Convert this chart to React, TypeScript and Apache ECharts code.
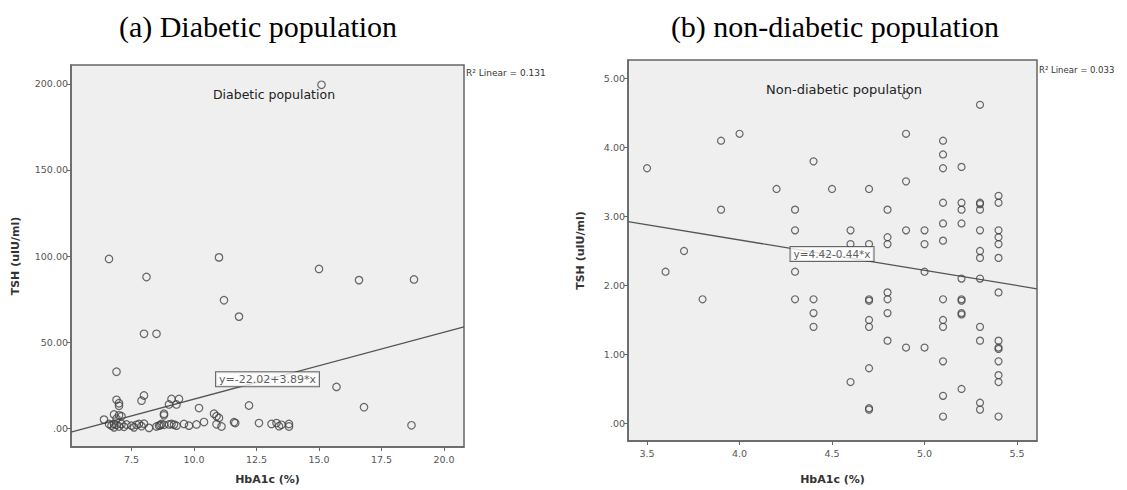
import React, { useEffect, useRef } from "react";
import * as echarts from "echarts";

// Diabetic population: [HbA1c %, TSH uIU/ml]
const diabeticPoints: number[][] = [
  [6.6, 98.3], [8.1, 87.8], [11.0, 99.2], [11.2, 74.3], [11.8, 64.8], [8.0, 54.8], [8.5, 54.8],
  [6.9, 32.8], [15.0, 92.5], [16.6, 86.0], [18.8, 86.4], [15.7, 24.0], [16.8, 12.2], [18.7, 1.7],
  [15.1, 199.4],
  [6.9, 16.5], [7.0, 14.5], [7.0, 13.0], [8.0, 19.0], [7.9, 16.0], [9.1, 17.0], [9.4, 17.0],
  [9.0, 13.8], [9.3, 13.8], [8.8, 8.4], [8.8, 7.5], [10.2, 11.7], [10.8, 8.4], [10.9, 7.0],
  [11.0, 6.0], [12.2, 13.2], [6.4, 5.0], [6.8, 8.0], [7.0, 7.5], [7.1, 7.0], [6.9, 5.5],
  [6.6, 2.5], [6.7, 1.5], [6.8, 2.5], [6.8, 0.5], [6.9, 2.0], [7.0, 1.0], [7.1, 2.5], [7.2, 0.8],
  [7.3, 2.2], [7.5, 1.5], [7.6, 0.5], [7.7, 2.0], [7.8, 2.5], [7.9, 1.2], [8.0, 2.6], [8.2, 0.2],
  [8.5, 1.0], [8.6, 1.5], [8.7, 2.5], [8.65, 1.8], [8.8, 2.0], [9.0, 2.2], [9.1, 2.5], [9.2, 2.1],
  [9.3, 1.5], [9.6, 2.5], [9.8, 1.5], [10.1, 2.2], [10.4, 3.6], [10.9, 2.3], [11.1, 1.0],
  [11.6, 3.5], [11.65, 3.0], [12.6, 3.0], [13.1, 2.5], [13.3, 3.0], [13.4, 1.2], [13.5, 2.0],
  [13.8, 1.0], [13.8, 2.5],
];

// Non-diabetic population: [HbA1c %, TSH uIU/ml]
const nonDiabeticPoints: number[][] = [
  [3.5, 3.7], [3.9, 4.1], [4.0, 4.2], [3.9, 3.1], [4.4, 3.8], [4.2, 3.4], [4.5, 3.4], [4.7, 3.4],
  [4.3, 3.1], [4.8, 3.1], [4.9, 4.76], [5.3, 4.62], [4.9, 4.2], [5.1, 4.1], [5.1, 3.9], [5.1, 3.7],
  [5.2, 3.72], [4.9, 3.51],
  [5.1, 3.2], [5.2, 3.2], [5.2, 3.1], [5.3, 3.2], [5.3, 3.18], [5.3, 3.1], [5.4, 3.3], [5.4, 3.2],
  [4.3, 2.8], [4.6, 2.8], [4.9, 2.8], [5.0, 2.8], [5.1, 2.9], [5.2, 2.9], [5.3, 2.8], [5.4, 2.8],
  [5.4, 2.7], [5.4, 2.6], [4.8, 2.7], [4.8, 2.6], [4.6, 2.6], [4.7, 2.6], [5.0, 2.6], [5.1, 2.65],
  [5.3, 2.5], [5.3, 2.4], [5.4, 2.4],
  [3.7, 2.5], [3.6, 2.2], [4.3, 2.2], [5.0, 2.2], [5.2, 2.1], [5.3, 2.1], [4.8, 1.9], [5.4, 1.9],
  [3.8, 1.8], [4.3, 1.8], [4.4, 1.8], [4.4, 1.6], [4.4, 1.4], [4.7, 1.8], [4.7, 1.78], [4.8, 1.8],
  [4.8, 1.6], [5.1, 1.8], [5.2, 1.8], [5.2, 1.78], [5.2, 1.6], [5.2, 1.58], [4.7, 1.5], [4.7, 1.4],
  [5.1, 1.5], [5.1, 1.4], [5.3, 1.4],
  [4.8, 1.2], [4.9, 1.1], [5.0, 1.1], [5.3, 1.2], [5.4, 1.2], [5.4, 1.1], [5.4, 1.08], [5.1, 0.9],
  [5.4, 0.9], [4.7, 0.8], [5.4, 0.7], [5.4, 0.6], [4.6, 0.6], [5.2, 0.5], [5.1, 0.4], [5.3, 0.3],
  [5.3, 0.2], [4.7, 0.2], [4.7, 0.22], [5.1, 0.1], [5.4, 0.1],
];

// Axis extents and tick labels
const leftXRange = [5.08, 20.8];
const leftYRange = [-10.9, 210.9];
const leftXTicks = [7.5, 10.0, 12.5, 15.0, 17.5, 20.0];
const leftYTicks = [0, 50, 100, 150, 200];
const rightXRange = [3.397, 5.608];
const rightYRange = [-0.255, 5.27];
const rightXTicks = [3.5, 4.0, 4.5, 5.0, 5.5];
const rightYTicks = [0, 1, 2, 3, 4, 5];

// Linear fits [intercept, slope]
const leftFit = [-22.02, 3.89];
const rightFit = [4.42, -0.44];
const leftEquation = "y=-22.02+3.89*x";
const rightEquation = "y=4.42-0.44*x";
const leftEquationAt = [12.94, 28.4];
const rightEquationAt = [4.5, 2.457];
const leftR2 = "R² Linear = 0.131";
const rightR2 = "R² Linear = 0.033";

const SANS = "DejaVu Sans";

const yFmt = (v: number) => (v === 0 ? ".00" : v.toFixed(2));
const xFmt = (v: number) => v.toFixed(1);

function xAxis(grid: number, range: number[], ticks: number[], gap: number) {
  return {
    type: "value",
    gridIndex: grid,
    min: range[0],
    max: range[1],
    name: "HbA1c (%)",
    nameLocation: "middle",
    nameGap: gap,
    nameTextStyle: { fontFamily: SANS, fontSize: 11, fontWeight: "bold", color: "#333" },
    axisLine: { show: true, onZero: false, lineStyle: { color: "#666", width: 1.5 } },
    axisTick: { show: true, customValues: ticks, length: 4, lineStyle: { color: "#666" } },
    axisLabel: { customValues: ticks, formatter: xFmt, fontFamily: SANS, fontSize: 9.5, color: "#555", margin: 7 },
    splitLine: { show: false },
  };
}

function yAxis(grid: number, range: number[], ticks: number[], gap: number) {
  return {
    type: "value",
    gridIndex: grid,
    min: range[0],
    max: range[1],
    name: "TSH (uIU/ml)",
    nameLocation: "middle",
    nameGap: gap,
    nameTextStyle: { fontFamily: SANS, fontSize: 11, fontWeight: "bold", color: "#333" },
    axisLine: { show: true, onZero: false, lineStyle: { color: "#666", width: 1.5 } },
    axisTick: { show: true, customValues: ticks, length: 4, lineStyle: { color: "#666" } },
    axisLabel: { customValues: ticks, formatter: yFmt, fontFamily: SANS, fontSize: 9.5, color: "#555", margin: 3 },
    splitLine: { show: false },
  };
}

function scatter(idx: number, data: number[][], size: number) {
  return {
    type: "scatter",
    xAxisIndex: idx,
    yAxisIndex: idx,
    data,
    symbol: "circle",
    symbolSize: size,
    itemStyle: { color: "rgba(0,0,0,0)", borderColor: "#444", borderWidth: 1.2 },
    z: 3,
  };
}

function fitLine(idx: number, fit: number[], range: number[]) {
  return {
    type: "line",
    xAxisIndex: idx,
    yAxisIndex: idx,
    data: [range[0], range[1]].map((x) => [x, fit[0] + fit[1] * x]),
    showSymbol: false,
    symbol: "none",
    lineStyle: { color: "#555", width: 1.3 },
    z: 2,
  };
}

function equationLabel(idx: number, at: number[], text: string, size: number) {
  return {
    type: "scatter",
    xAxisIndex: idx,
    yAxisIndex: idx,
    data: [at],
    symbolSize: 0,
    z: 5,
    label: {
      show: true,
      position: "inside",
      formatter: text,
      fontFamily: SANS,
      fontSize: size,
      color: "#333",
      backgroundColor: "#fff",
      borderColor: "#444",
      borderWidth: 1,
      padding: [2, 3, 1, 3],
    },
  };
}

export default function App() {
  const ref = useRef<HTMLDivElement>(null);
  useEffect(() => {
    if (!ref.current) return;
    const chart = echarts.init(ref.current, null, { renderer: "svg" });
    chart.setOption({
      animation: false,
      backgroundColor: "#fff",
      grid: [
        { left: 71, top: 65, width: 393, height: 386, show: true, backgroundColor: "#efefef", borderColor: "#666", borderWidth: 1.5 },
        { left: 628, top: 60, width: 409, height: 390, show: true, backgroundColor: "#efefef", borderColor: "#666", borderWidth: 1.5 },
      ],
      xAxis: [xAxis(0, leftXRange, leftXTicks, 27), xAxis(1, rightXRange, rightXTicks, 33)],
      yAxis: [yAxis(0, leftYRange, leftYTicks, 50), yAxis(1, rightYRange, rightYTicks, 42)],
      series: [
        fitLine(0, leftFit, leftXRange),
        scatter(0, diabeticPoints, 7.5),
        equationLabel(0, leftEquationAt, leftEquation, 11),
        fitLine(1, rightFit, rightXRange),
        scatter(1, nonDiabeticPoints, 7),
        equationLabel(1, rightEquationAt, rightEquation, 10.5),
      ],
      graphic: [
        { type: "text", x: 258, y: 26, style: { text: "(a) Diabetic population", fontFamily: "Liberation Serif", fontSize: 30, fill: "#000", align: "center", verticalAlign: "middle" } },
        { type: "text", x: 835, y: 26, style: { text: "(b) non-diabetic population", fontFamily: "Liberation Serif", fontSize: 30, fill: "#000", align: "center", verticalAlign: "middle" } },
        { type: "text", x: 274, y: 94, style: { text: "Diabetic population", fontFamily: SANS, fontSize: 12.5, fill: "#222", align: "center", verticalAlign: "middle" } },
        { type: "text", x: 844, y: 89, style: { text: "Non-diabetic population", fontFamily: SANS, fontSize: 13, fill: "#222", align: "center", verticalAlign: "middle" } },
        { type: "text", x: 466, y: 73, style: { text: leftR2, fontFamily: SANS, fontSize: 9, fill: "#333", align: "left", verticalAlign: "middle" } },
        { type: "text", x: 1039, y: 70, style: { text: rightR2, fontFamily: SANS, fontSize: 8.5, fill: "#333", align: "left", verticalAlign: "middle" } },
      ],
    });
    return () => chart.dispose();
  }, []);
  return <div ref={ref} style={{ position: "fixed", left: 0, top: 0, width: 1127, height: 490 }} />;
}
